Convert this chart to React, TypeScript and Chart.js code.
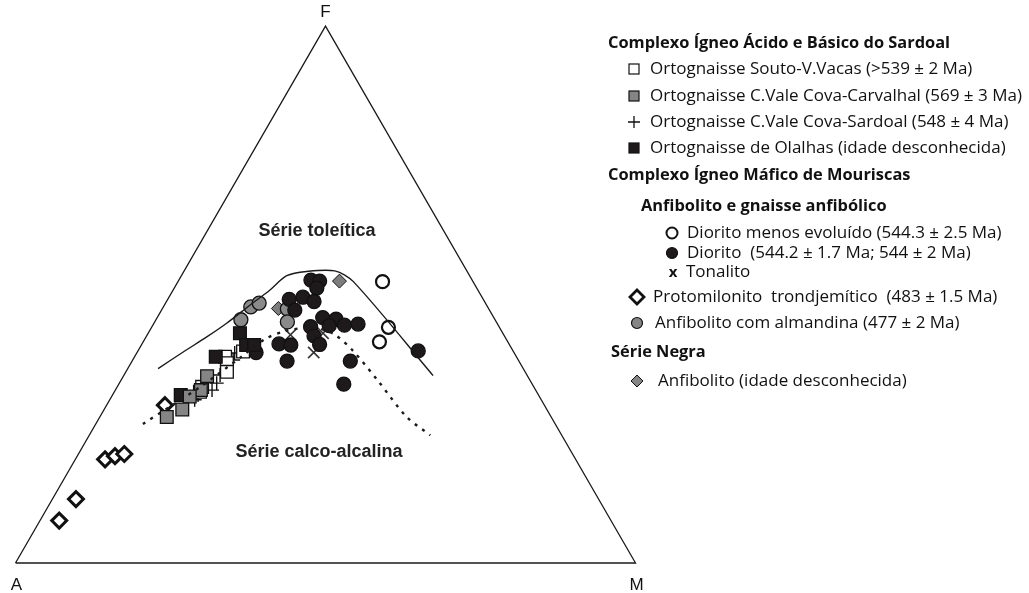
import React, { useEffect, useRef } from "react";
import { Chart, registerables } from "chart.js";
Chart.register(...registerables);

type T = [number, number, number]; // [A, F, M] in %

// ---- data (A, F, M %) ----
const triangle: T[] = [[100, 0, 0], [0, 100, 0], [0, 0, 100], [100, 0, 0]];

const tholeiiticBoundary: T[] = [
  [58.9, 36.2, 4.9], [53.3, 39.3, 7.4], [48.1, 42.1, 9.8], [43.7, 44.6, 11.7],
  [38.2, 48.0, 13.8], [33.6, 50.8, 15.6], [29.5, 53.5, 17.0], [25.9, 54.3, 19.8],
  [21.3, 54.4, 24.3], [19.3, 52.4, 28.3], [15.2, 34.9, 49.9],
];

const calcAlkalineBoundary: T[] = [
  [66.5, 25.9, 7.6], [53.8, 32.8, 13.4], [44.7, 38.2, 17.1], [38.9, 41.7, 19.4],
  [34.9, 43.2, 21.9], [31.4, 43.8, 24.8], [29.1, 43.6, 27.3], [27.2, 42.5, 30.3],
  [25.8, 39.5, 34.7], [24.6, 34.1, 41.3], [23.3, 27.2, 49.5], [21.2, 23.8, 55.0],
];

const ortoSoutoVVacas: T[] = [
  [43.6, 39.4, 17.0], [47.0, 38.4, 14.6], [47.3, 37.2, 15.5], [48.1, 35.6, 16.3],
  [53.5, 32.8, 13.7], [54.3, 31.9, 13.8],
];
const ortoCovaCarvalhal: T[] = [
  [51.7, 34.8, 13.5], [54.0, 32.2, 13.8], [56.4, 31.0, 12.6], [58.8, 28.6, 12.6],
  [62.0, 27.2, 10.8],
];
const ortoCovaSardoal: T[] = [
  [45.1, 39.1, 15.8], [46.0, 37.8, 16.2], [49.5, 35.0, 15.5], [50.8, 33.5, 15.7],
  [52.2, 32.2, 15.6], [54.9, 31.3, 13.8], [55.9, 30.4, 13.7],
];
const ortoOlalhas: T[] = [
  [42.4, 42.8, 14.8], [42.5, 40.6, 16.9], [41.2, 40.6, 18.2], [48.5, 38.4, 13.1],
  [57.7, 31.3, 11.0],
];
const dioritoMenosEvoluido: T[] = [
  [14.6, 52.4, 33.0], [17.9, 43.9, 38.2], [20.7, 41.2, 38.1],
];
const diorito: T[] = [
  [26.0, 52.7, 21.3], [24.7, 52.5, 22.8], [25.8, 51.2, 23.0], [31.3, 49.1, 19.6],
  [28.9, 49.5, 21.6], [27.5, 48.7, 23.8], [31.4, 47.1, 21.5], [27.6, 45.7, 26.7],
  [25.6, 45.4, 29.0], [24.8, 44.3, 30.9], [22.5, 44.5, 33.0], [27.3, 44.2, 28.5],
  [30.4, 44.0, 25.6], [30.7, 42.3, 27.0], [30.6, 40.7, 28.7], [37.1, 40.8, 22.1],
  [35.3, 40.6, 24.1], [37.4, 37.6, 25.0], [27.2, 37.6, 35.2], [30.4, 33.3, 36.3],
  [15.3, 39.5, 45.2], [41.6, 39.2, 19.2],
];
const tonalito: T[] = [[34.4, 42.5, 23.1], [29.0, 42.8, 28.2], [32.3, 39.2, 28.5]];
const protomilonito: T[] = [
  [61.2, 29.4, 9.4], [75.9, 19.3, 4.8], [74.0, 19.9, 6.1], [72.3, 20.3, 7.4],
  [84.3, 11.9, 3.8], [89.0, 7.9, 3.1],
];
const anfibolitoAlmandina: T[] = [
  [38.2, 47.7, 14.1], [36.5, 48.4, 15.1], [41.0, 45.3, 13.7], [32.5, 47.3, 20.2],
  [33.7, 44.9, 21.4],
];
const serieNegraAnfibolito: T[] = [[21.5, 52.5, 26.0], [33.9, 47.4, 18.7]];

const vertexLabels = ["A", "F", "M"];
const regionLabels = ["Série toleítica", "Série calco-alcalina"];

const toXY = (p: T) => {
  const s = p[0] + p[1] + p[2];
  const f = p[1] / s;
  const m = p[2] / s;
  return { x: m + f / 2, y: (f * Math.sqrt(3)) / 2 };
};

const BLACK = "#1e1a1b";
const GREY = "#858585";
const EDGE = "#111";
const FONT = "'Open Sans', sans-serif";

type LegendRow =
  | { kind: "title"; text: string; x: number; y: number }
  | { kind: "item"; text: string; x: number; y: number; mx: number; marker: string };

const legendRows: LegendRow[] = [
  { kind: "title", text: "Complexo Ígneo Ácido e Básico do Sardoal", x: 608, y: 43 },
  { kind: "item", text: "Ortognaisse Souto-V.Vacas (>539 ± 2 Ma)", x: 650, y: 69, mx: 634, marker: "wsq" },
  { kind: "item", text: "Ortognaisse C.Vale Cova-Carvalhal (569 ± 3 Ma)", x: 650, y: 96, mx: 634, marker: "gsq" },
  { kind: "item", text: "Ortognaisse C.Vale Cova-Sardoal (548 ± 4 Ma)", x: 650, y: 122, mx: 634, marker: "plus" },
  { kind: "item", text: "Ortognaisse de Olalhas (idade desconhecida)", x: 650, y: 148, mx: 634, marker: "bsq" },
  { kind: "title", text: "Complexo Ígneo Máfico de Mouriscas", x: 608, y: 175 },
  { kind: "title", text: "Anfibolito e gnaisse anfibólico", x: 641, y: 206 },
  { kind: "item", text: "Diorito menos evoluído (544.3 ± 2.5 Ma)", x: 687, y: 233, mx: 672, marker: "wci" },
  { kind: "item", text: "Diorito  (544.2 ± 1.7 Ma; 544 ± 2 Ma)", x: 687, y: 253, mx: 672, marker: "bci" },
  { kind: "item", text: "Tonalito", x: 686, y: 272, mx: 672, marker: "xtext" },
  { kind: "item", text: "Protomilonito  trondjemítico  (483 ± 1.5 Ma)", x: 653, y: 297, mx: 637, marker: "wdi" },
  { kind: "item", text: "Anfibolito com almandina (477 ± 2 Ma)", x: 655, y: 323, mx: 637, marker: "gci" },
  { kind: "title", text: "Série Negra", x: 611, y: 352 },
  { kind: "item", text: "Anfibolito (idade desconhecida)", x: 658, y: 381, mx: 637, marker: "gdi" },
];

function drawLegendMarker(ctx: CanvasRenderingContext2D, kind: string, x: number, y: number) {
  ctx.save();
  ctx.lineWidth = 1.2;
  ctx.strokeStyle = EDGE;
  const sq = (fill: string) => {
    ctx.fillStyle = fill;
    ctx.fillRect(x - 5, y - 5, 10, 10);
    ctx.strokeRect(x - 5, y - 5, 10, 10);
  };
  const ci = (fill: string) => {
    ctx.beginPath();
    ctx.arc(x, y, 5.5, 0, Math.PI * 2);
    ctx.fillStyle = fill;
    ctx.fill();
    ctx.stroke();
  };
  const di = (fill: string, r: number, lw: number) => {
    ctx.beginPath();
    ctx.moveTo(x, y - r);
    ctx.lineTo(x + r, y);
    ctx.lineTo(x, y + r);
    ctx.lineTo(x - r, y);
    ctx.closePath();
    ctx.fillStyle = fill;
    ctx.fill();
    ctx.lineWidth = lw;
    ctx.stroke();
  };
  if (kind === "wsq") sq("#fff");
  else if (kind === "gsq") sq(GREY);
  else if (kind === "bsq") sq(BLACK);
  else if (kind === "plus") {
    ctx.beginPath();
    ctx.moveTo(x - 6, y);
    ctx.lineTo(x + 6, y);
    ctx.moveTo(x, y - 6);
    ctx.lineTo(x, y + 6);
    ctx.lineWidth = 1.3;
    ctx.stroke();
  } else if (kind === "wci") {
    ctx.lineWidth = 2;
    ci("#fff");
  } else if (kind === "bci") ci(BLACK);
  else if (kind === "gci") ci(GREY);
  else if (kind === "wdi") di("#fff", 7, 2.8);
  else if (kind === "gdi") di(GREY, 6, 1);
  else if (kind === "xtext") {
    ctx.fillStyle = "#111";
    ctx.font = `bold 15px ${FONT}`;
    ctx.textAlign = "center";
    ctx.textBaseline = "middle";
    ctx.fillText("x", x + 1, y + 1);
  }
  ctx.restore();
}

const overlayPlugin = {
  id: "overlay",
  afterDraw(chart: any) {
    const ctx: CanvasRenderingContext2D = chart.ctx;
    const xs = chart.scales.x;
    const ys = chart.scales.y;
    const pix = (p: T) => {
      const q = toXY(p);
      return [xs.getPixelForValue(q.x), ys.getPixelForValue(q.y)];
    };
    ctx.save();
    // vertex labels
    ctx.fillStyle = "#111";
    ctx.font = "17px 'Liberation Sans', Arial, sans-serif";
    ctx.textAlign = "center";
    ctx.textBaseline = "middle";
    const [ax, ay] = pix(triangle[0]);
    const [fx, fy] = pix(triangle[1]);
    const [mx, my] = pix(triangle[2]);
    ctx.fillText(vertexLabels[0], ax + 1, ay + 22);
    ctx.fillText(vertexLabels[1], fx, fy - 14);
    ctx.fillText(vertexLabels[2], mx + 1, my + 22);
    // region labels
    ctx.font = "bold 18px 'Liberation Sans', Arial, sans-serif";
    ctx.fillStyle = "#222";
    ctx.fillText(regionLabels[0], 317, 231);
    ctx.fillText(regionLabels[1], 319, 452);
    // legend
    for (const r of legendRows) {
      ctx.fillStyle = "#111";
      ctx.textAlign = "left";
      ctx.textBaseline = "middle";
      if (r.kind === "title") {
        ctx.font = `bold 16.4px ${FONT}`;
        ctx.fillText(r.text, r.x, r.y);
      } else {
        drawLegendMarker(ctx, r.marker, r.mx, r.y);
        ctx.fillStyle = "#111";
        ctx.font = `17px ${FONT}`;
        ctx.textAlign = "left";
        ctx.textBaseline = "middle";
        ctx.fillText(r.text, r.x, r.y);
      }
    }
    ctx.restore();
  },
};

const pts = (arr: T[]) => arr.map(toXY);

export default function App() {
  const ref = useRef<HTMLCanvasElement | null>(null);
  useEffect(() => {
    if (!ref.current) return;
    const lineDs = (data: T[], extra: any) => ({
      type: "line",
      data: pts(data),
      showLine: true,
      pointRadius: 0,
      fill: false,
      borderColor: "#1a1a1a",
      borderWidth: 1.4,
      ...extra,
    });
    const markDs = (data: T[], extra: any) => ({
      type: "scatter",
      data: pts(data),
      borderColor: EDGE,
      borderWidth: 1.3,
      ...extra,
    });
    const chart = new Chart(ref.current, {
      type: "scatter",
      data: {
        datasets: [
          lineDs(triangle, { tension: 0, borderWidth: 1.3 }),
          lineDs(tholeiiticBoundary, { tension: 0.3 }),
          lineDs(calcAlkalineBoundary, { tension: 0.3, borderDash: [3, 6], borderWidth: 2.4 }),
          markDs(ortoCovaCarvalhal, { pointStyle: "rect", pointRadius: 9, backgroundColor: GREY }),
          markDs(ortoOlalhas, { pointStyle: "rect", pointRadius: 9, backgroundColor: BLACK }),
          markDs(ortoSoutoVVacas, { pointStyle: "rect", pointRadius: 9, backgroundColor: "#fff" }),
          markDs(ortoCovaSardoal, { pointStyle: "cross", pointRadius: 7, borderWidth: 1.4, backgroundColor: "#000" }),
          markDs(diorito, { pointStyle: "circle", pointRadius: 7, backgroundColor: BLACK }),
          markDs(anfibolitoAlmandina, { pointStyle: "circle", pointRadius: 7, backgroundColor: "#8a8a8a" }),
          markDs(dioritoMenosEvoluido, { pointStyle: "circle", pointRadius: 6.5, borderWidth: 2.2, backgroundColor: "#fff" }),
          markDs(serieNegraAnfibolito, { pointStyle: "rectRot", pointRadius: 7, borderWidth: 1, backgroundColor: "#7d7d7d" }),
          markDs(protomilonito, { pointStyle: "rectRot", pointRadius: 7.5, borderWidth: 3, backgroundColor: "#fff" }),
          markDs(tonalito, { pointStyle: "crossRot", pointRadius: 8, borderWidth: 1.6, borderColor: "#333" }),
        ] as any,
      },
      options: {
        animation: false,
        responsive: false,
        maintainAspectRatio: false,
        layout: { padding: 0, autoPadding: false },
        plugins: { legend: { display: false }, tooltip: { enabled: false } },
        scales: {
          x: { type: "linear", display: false, min: -15.5 / 620, max: (1029 - 15.5) / 620 },
          y: { type: "linear", display: false, min: -30 / 620, max: 563 / 620 },
        },
      },
      plugins: [overlayPlugin],
    } as any);
    return () => chart.destroy();
  }, []);
  return (
    <div style={{ position: "absolute", left: 0, top: 0, width: 1029, height: 593, background: "#fff" }}>
      <canvas ref={ref} width={1029} height={593} style={{ display: "block" }} />
    </div>
  );
}
